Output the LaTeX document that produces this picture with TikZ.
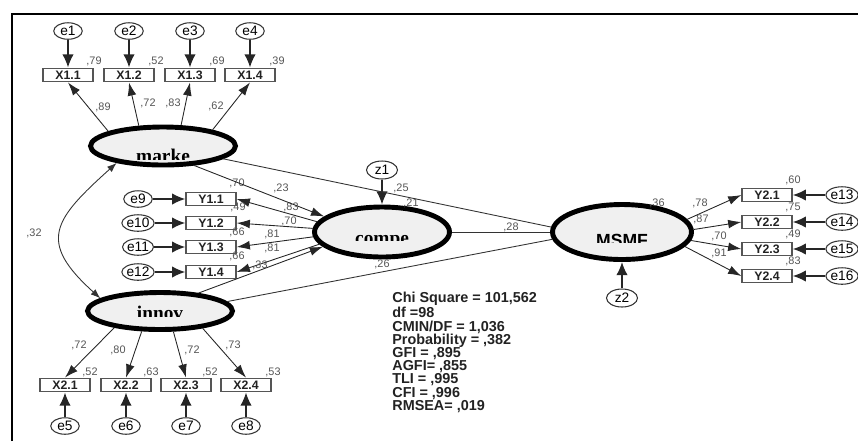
\documentclass[tikz,border=0pt]{standalone}
\usepackage{fontspec}
\setmainfont{Liberation Sans}
\newfontfamily\latserif{Liberation Serif}
\usetikzlibrary{shapes.geometric, arrows.meta}
\definecolor{AMOS_Fill}{HTML}{F0F0F0}
\definecolor{AMOS_Grey}{HTML}{555555}
\definecolor{AMOS_Text}{HTML}{222222}
\tikzset{
  latent/.style={ellipse, draw=black, line width=2.8pt, fill=AMOS_Fill, inner sep=0pt},
  errvar/.style={ellipse, draw=black!80, line width=0.6pt, minimum width=0.57cm, minimum height=0.33cm, inner sep=0pt, font=\fontsize{7.8}{8}\selectfont},
  indic/.style={rectangle, draw=AMOS_Grey, line width=0.8pt, minimum width=1.0cm, minimum height=0.27cm, inner sep=0pt, font=\bfseries\fontsize{7}{8}\selectfont, text=AMOS_Text},
  coef/.style={inner sep=0pt, text=AMOS_Grey, font=\fontsize{6.2}{7}\selectfont},
  latlab/.style={inner sep=0pt, anchor=base, font=\latserif\bfseries\fontsize{11}{12}\selectfont},
  errarrow/.style={-{Latex[length=7.5pt,width=6.5pt]}, line width=0.9pt, draw=black!85},
  loadarrow/.style={-{Latex[length=7.5pt,width=5pt]}, line width=0.5pt, draw=black!85},
  pathline/.style={line width=0.5pt, draw=black!80},
}

\begin{document}
\begin{tikzpicture}[x=0.02cm, y=-0.02cm]
    \useasboundingbox (0,0) rectangle (858,441);
    % frame
    \draw[line width=1.6pt] (12,441) -- (12,14) -- (858,14);

    % latent variables
    \node[latent, minimum width=2.9cm, minimum height=0.76cm] (marke) at (163,146) {};
    \node[latent, minimum width=2.9cm, minimum height=0.74cm] (innov) at (160,311) {};
    \node[latent, minimum width=2.7cm, minimum height=1.0cm] (compe) at (382,232) {};
    \node[latent, minimum width=2.78cm, minimum height=1.1cm] (MSMF) at (622,232) {};
    \begin{scope}
      \clip (88,100) rectangle (238,159);
      \node[latlab] (tmarke) at (163,162) {marke};
    \end{scope}
    \begin{scope}
      \clip (85,280) rectangle (235,316);
      \node[latlab] (tinnov) at (160,319) {innov};
    \end{scope}
    \begin{scope}
      \clip (312,200) rectangle (452,240);
      \node[latlab] (tcompe) at (382,244) {compe};
    \end{scope}
    \begin{scope}
      \clip (549,200) rectangle (695,242);
      \node[latlab, font=\bfseries\fontsize{10}{12}\selectfont] (tMSMF) at (622,246) {MSMF};
    \end{scope}

    % marke indicators
    \node[errvar] (e1) at (68,31) {e1};
    \node[errvar] (e2) at (129,31) {e2};
    \node[errvar] (e3) at (190,31) {e3};
    \node[errvar] (e4) at (250,31) {e4};
    \node[indic] (X11) at (68,75) {X1.1};
    \node[indic] (X12) at (129,75) {X1.2};
    \node[indic] (X13) at (190,75) {X1.3};
    \node[indic] (X14) at (250,75) {X1.4};
    \draw[errarrow] (e1) -- (X11);
    \draw[errarrow] (e2) -- (X12);
    \draw[errarrow] (e3) -- (X13);
    \draw[errarrow] (e4) -- (X14);
    \draw[loadarrow] (marke.165) -- (X11.south);
    \draw[loadarrow] (marke.140) -- (X12.south);
    \draw[loadarrow] (marke.49) -- (X13.south);
    \draw[loadarrow] (marke.18) -- (X14.south);
    \node[coef] (r11) at (94,61) {,79};
    \node[coef] (r12) at (156,61) {,52};
    \node[coef] (r13) at (217,61) {,69};
    \node[coef] (r14) at (277,61) {,39};
    \node[coef] (l11) at (103,107) {,89};
    \node[coef] (l12) at (148,103) {,72};
    \node[coef] (l13) at (173,103) {,83};
    \node[coef] (l14) at (216,106) {,62};

    % innov indicators
    \node[indic] (X21) at (65,385) {X2.1};
    \node[indic] (X22) at (126,385) {X2.2};
    \node[indic] (X23) at (186,385) {X2.3};
    \node[indic] (X24) at (246,385) {X2.4};
    \node[errvar] (e5) at (65,426) {e5};
    \node[errvar] (e6) at (126,426) {e6};
    \node[errvar] (e7) at (186,426) {e7};
    \node[errvar] (e8) at (246,426) {e8};
    \draw[errarrow] (e5) -- (X21);
    \draw[errarrow] (e6) -- (X22);
    \draw[errarrow] (e7) -- (X23);
    \draw[errarrow] (e8) -- (X24);
    \draw[loadarrow] (innov.200) -- (X21.north);
    \draw[loadarrow] (innov.228) -- (X22.north);
    \draw[loadarrow] (innov.303) -- (X23.north);
    \draw[loadarrow] (innov.338) -- (X24.north);
    \node[coef] (l21) at (79,345) {,72};
    \node[coef] (l22) at (118,350) {,80};
    \node[coef] (l23) at (192,350) {,72};
    \node[coef] (l24) at (233,345) {,73};
    \node[coef] (r21) at (90,372) {,52};
    \node[coef] (r22) at (151,372) {,63};
    \node[coef] (r23) at (210,372) {,52};
    \node[coef] (r24) at (273,372) {,53};

    % compe indicators
    \node[errvar] (e9) at (138,199) {e9};
    \node[errvar] (e10) at (138,223) {e10};
    \node[errvar] (e11) at (138,247) {e11};
    \node[errvar] (e12) at (138,272) {e12};
    \node[indic] (Y11) at (211,199) {Y1.1};
    \node[indic] (Y12) at (211,223) {Y1.2};
    \node[indic] (Y13) at (211,247) {Y1.3};
    \node[indic] (Y14) at (211,272) {Y1.4};
    \draw[errarrow] (e9) -- (Y11);
    \draw[errarrow] (e10) -- (Y12);
    \draw[errarrow] (e11) -- (Y13);
    \draw[errarrow] (e12) -- (Y14);
    \draw[loadarrow] (compe.171) -- (Y11.east);
    \draw[loadarrow] (compe.177) -- (Y12.east);
    \draw[loadarrow] (compe.184) -- (Y13.east);
    \draw[loadarrow] (compe.191) -- (Y14.east);
    \node[coef] (r31) at (237,183) {,70};
    \node[coef] (r32) at (238,207) {,49};
    \node[coef] (r33) at (237,232) {,66};
    \node[coef] (r34) at (237,256) {,66};
    \node[coef] (l31) at (291,207) {,83};
    \node[coef] (l32) at (289,221) {,70};
    \node[coef] (l33) at (272,234) {,81};
    \node[coef] (l34) at (272,248) {,81};

    % MSMF indicators
    \node[indic] (Y21) at (767,195) {Y2.1};
    \node[indic] (Y22) at (767,222) {Y2.2};
    \node[indic] (Y23) at (767,249) {Y2.3};
    \node[indic] (Y24) at (767,276) {Y2.4};
    \node[errvar] (e13) at (842,195) {e13};
    \node[errvar] (e14) at (842,222) {e14};
    \node[errvar] (e15) at (842,249) {e15};
    \node[errvar] (e16) at (842,276) {e16};
    \draw[errarrow] (e13) -- (Y21);
    \draw[errarrow] (e14) -- (Y22);
    \draw[errarrow] (e15) -- (Y23);
    \draw[errarrow] (e16) -- (Y24);
    \draw[loadarrow] (MSMF.11) -- (Y21.west);
    \draw[loadarrow] (MSMF.2) -- (Y22.west);
    \draw[loadarrow] (MSMF.-7) -- (Y23.west);
    \draw[loadarrow] (MSMF.-13) -- (Y24.west);
    \node[coef] (r41) at (793,180) {,60};
    \node[coef] (r42) at (793,207) {,75};
    \node[coef] (r43) at (793,234) {,49};
    \node[coef] (r44) at (793,261) {,83};
    \node[coef] (l41) at (700,203) {,78};
    \node[coef] (l42) at (701,219) {,87};
    \node[coef] (l43) at (719,236) {,70};
    \node[coef] (l44) at (719,253) {,91};

    % disturbances
    \node[errvar, minimum width=0.62cm, minimum height=0.36cm] (z1) at (382,170) {z1};
    \node[errvar, minimum width=0.62cm, minimum height=0.36cm] (z2) at (622,298) {z2};
    \draw[errarrow] (z1) -- (compe);
    \draw[errarrow] (z2) -- (MSMF);

    % structural paths
    \draw[<->, >={Latex[length=5.5pt,width=4pt]}, pathline] (marke.200) to[out=222, in=138, looseness=1.6] (innov.168);
    \draw[loadarrow] (marke.-32) -- (compe.165);
    \draw[loadarrow] (innov.25) -- (compe.194);
    \draw[pathline] (marke.-12) -- (MSMF.176);
    \draw[pathline] (innov.8) -- (MSMF.186);
    \draw[pathline] (compe) -- (MSMF);
    \node[coef] (c32) at (34,233) {,32};
    \node[coef] (c23) at (281,188) {,23};
    \node[coef] (c33) at (260,265) {,33};
    \node[coef] (c25) at (401,188) {,25};
    \node[coef] (c21) at (411,203) {,21};
    \node[coef] (c28) at (511,227) {,28};
    \node[coef] (c26) at (382,264) {,26};
    \node[coef] (c36) at (657,203) {,36};

    % fit indices
    \node[anchor=north west, align=left, inner sep=0pt, text=AMOS_Text,
          font=\bfseries\fontsize{8.2}{7.5}\selectfont] (fit) at (392,292)
      {Chi Square = 101,562\\ df =98\\ CMIN/DF = 1,036\\ Probability = ,382\\ GFI = ,895\\
       AGFI= ,855\\ TLI = ,995\\ CFI = ,996\\ RMSEA= ,019};
\end{tikzpicture}
\end{document}
